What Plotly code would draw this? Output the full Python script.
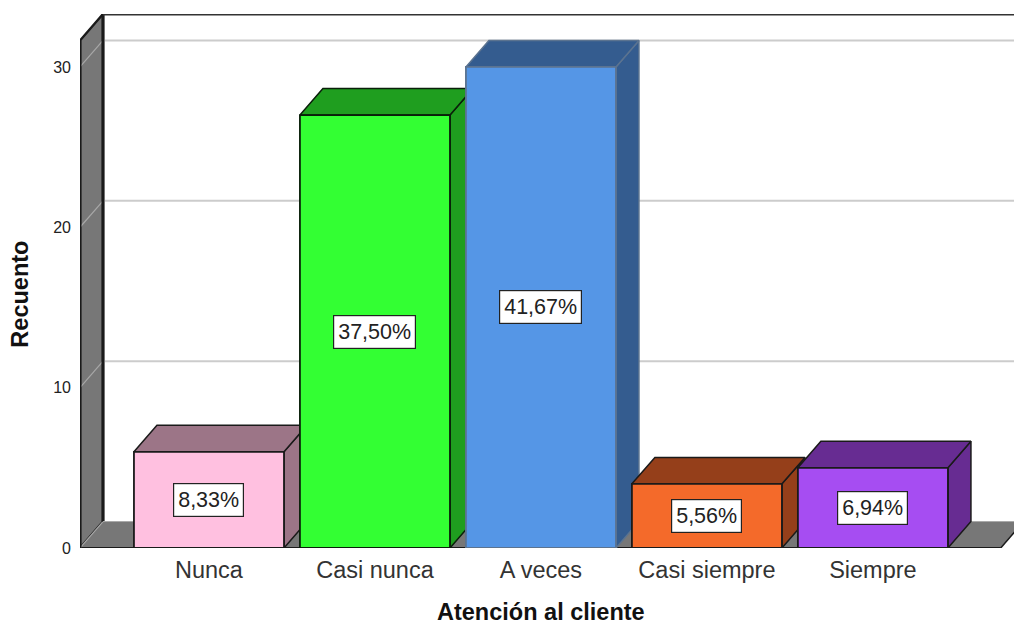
import plotly.graph_objects as go

categories = ["Nunca", "Casi nunca", "A veces", "Casi siempre", "Siempre"]
counts = [6, 27, 30, 4, 5]
percent_labels = ["8,33%", "37,50%", "41,67%", "5,56%", "6,94%"]
front_colors = ["#FFC0E0", "#33FF33", "#5596E6", "#F46A2A", "#A64DF2"]
depth_colors = ["#9C7587", "#1F9E1F", "#345C8F", "#953F1A", "#672C92"]
edge_colors = ["#1a1a1a", "#0a200a", "#5b7390", "#1a1a1a", "#1a1a1a"]
y_ticks = [0, 10, 20, 30]

FONT = "Liberation Sans"
BAR_HALF = 0.452
DX = 0.1386
DY = 1.65
X_MIN, X_MAX = -0.777, 4.85
Y_MAX = 33.3
WALL_TOP = 31.65
FLOOR_RIGHT = 4.77
GREY = "#777777"
GRID = "#CCCCCC"

fig = go.Figure()


def poly(xs, ys, fill, line, width=1.5):
    fig.add_trace(go.Scatter(
        x=xs, y=ys, mode="lines", fill="toself", fillcolor=fill,
        line=dict(color=line, width=width), hoverinfo="skip",
        showlegend=False, cliponaxis=False,
    ))


def seg(xs, ys, color, width, clip=True):
    fig.add_trace(go.Scatter(
        x=xs, y=ys, mode="lines", line=dict(color=color, width=width),
        hoverinfo="skip", showlegend=False, cliponaxis=clip,
    ))


# Left wall and floor
poly([X_MIN, X_MIN + DX, X_MIN + DX, X_MIN, X_MIN],
     [0, DY, WALL_TOP + DY, WALL_TOP, 0], GREY, "#1a1a1a", 2.4)
poly([X_MIN, X_MIN + DX, FLOOR_RIGHT + DX, FLOOR_RIGHT, X_MIN],
     [0, DY, DY, 0, 0], GREY, "#1a1a1a", 0.1)
seg([X_MIN, FLOOR_RIGHT], [0, 0], "#1a1a1a", 2, False)
seg([FLOOR_RIGHT, FLOOR_RIGHT + DX], [0, DY], "#1a1a1a", 1.5, False)

# Gridlines on left wall and back wall
for t in y_ticks:
    seg([X_MIN, X_MIN + DX], [t, t + DY], "#A8A8A8", 1.2, False)
    if t > 0:
        seg([X_MIN + DX, X_MAX], [t + DY, t + DY], GRID, 2)
seg([X_MIN, X_MIN], [0, WALL_TOP], "#1a1a1a", 3, False)
seg([X_MIN + DX, X_MIN + DX], [DY, WALL_TOP + DY], "#1a1a1a", 3, False)
seg([X_MIN + DX, X_MAX], [DY, DY], "#AAAAAA", 1)
# Top edge of the back wall
seg([X_MIN + DX, X_MAX], [WALL_TOP + DY, WALL_TOP + DY], "#333333", 3, False)

# Bars: side, top, then front, left to right
for i, v in enumerate(counts):
    l, r = i - BAR_HALF, i + BAR_HALF
    poly([r, r + DX, r + DX, r, r], [0, DY, v + DY, v, 0], depth_colors[i], edge_colors[i])
    poly([l, l + DX, r + DX, r, l], [v, v + DY, v + DY, v, v], depth_colors[i], edge_colors[i])
    poly([l, r, r, l, l], [0, 0, v, v, 0], front_colors[i], edge_colors[i], 1.8)

annotations = [
    dict(x=i, y=v / 2, xref="x", yref="y", text=p, showarrow=False,
         font=dict(family=FONT, size=21.5, color="#222222"),
         bgcolor="white", bordercolor="#222222", borderwidth=1.2, borderpad=4)
    for i, (v, p) in enumerate(zip(counts, percent_labels))
]
annotations += [
    dict(x=2, y=0, xref="x", yref="paper", yshift=-79, text="<b>Atención al cliente</b>",
         showarrow=False, font=dict(family=FONT, size=23.5, color="#111111")),
    dict(x=0, y=15.8, xref="paper", yref="y", xshift=-75, textangle=-90, text="<b>Recuento</b>",
         showarrow=False, font=dict(family=FONT, size=23.5, color="#111111")),
]

fig.update_layout(
    width=1014, height=625,
    margin=dict(l=80, r=0, t=14, b=77, autoexpand=False),
    paper_bgcolor="white", plot_bgcolor="white",
    showlegend=False,
    annotations=annotations,
    xaxis=dict(
        range=[X_MIN, X_MAX], tickmode="array", tickvals=list(range(len(categories))),
        ticktext=categories, showgrid=False, zeroline=False, showline=False, ticks="",
        ticklabelstandoff=5,
        tickfont=dict(family=FONT, size=23.5, color="#333333"),
        automargin=False,
    ),
    yaxis=dict(
        range=[0, Y_MAX], tickmode="array", tickvals=y_ticks, showgrid=False,
        zeroline=False, showline=False, ticks="", ticklen=0,
        ticklabelstandoff=8,
        tickfont=dict(family=FONT, size=16, color="#222222"),
        automargin=False,
    ),
)

fig.write_html("out.html", config={"displayModeBar": False},
               post_script="document.body.style.margin='0';")
